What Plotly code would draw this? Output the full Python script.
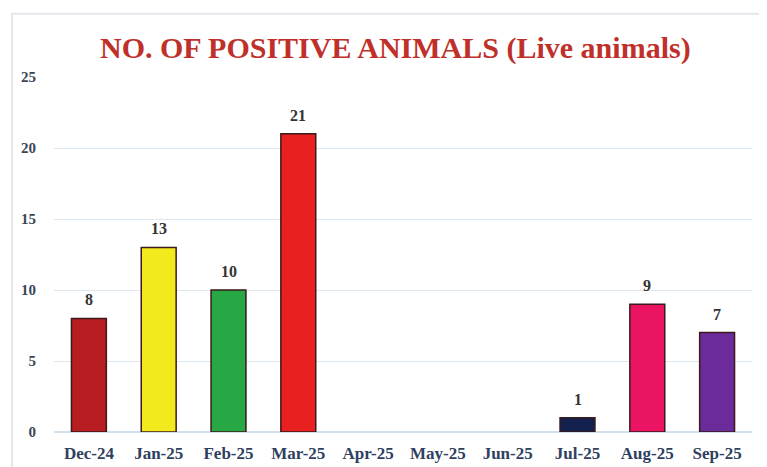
import plotly.graph_objects as go

months = ["Dec-24", "Jan-25", "Feb-25", "Mar-25", "Apr-25", "May-25",
          "Jun-25", "Jul-25", "Aug-25", "Sep-25"]
positives = [8, 13, 10, 21, 0, 0, 0, 1, 9, 7]
bar_colors = ["#b81d22", "#f2ea1c", "#27a845", "#e8201f", "#cccccc", "#cccccc",
              "#cccccc", "#13214f", "#ea1462", "#6b2b9b"]
y_ticks = [0, 5, 10, 15, 20, 25]

font_family = "Liberation Serif, Times New Roman, serif"

fig = go.Figure()
fig.add_trace(go.Bar(
    x=months, y=positives,
    marker=dict(color=bar_colors,
                line=dict(color="#3a1a1a",
                          width=[1.5 if v > 0 else 0 for v in positives])),
))

for m, v in zip(months, positives):
    if v > 0:
        fig.add_annotation(x=m, y=v, text=f"<b>{v}</b>", showarrow=False,
                           yanchor="bottom", yshift=8,
                           font=dict(family=font_family, size=16, color="#333333"))

fig.update_layout(
    width=767, height=467,
    margin=dict(l=46, r=23, t=69, b=38),
    paper_bgcolor="white", plot_bgcolor="white",
    bargap=0.5,
    showlegend=False,
    title=dict(text="<b>NO. OF POSITIVE ANIMALS (Live animals)</b>",
               x=0.505, xanchor="center", y=0.915, yanchor="middle",
               font=dict(family=font_family, size=30, color="#c0302a")),
    xaxis=dict(showgrid=False, showline=False, ticks="",
               tickfont=dict(family=font_family, size=17, color="#2f4060",
                             weight="bold"),
               ticklabelstandoff=9),
    yaxis=dict(range=[0, 25], tickvals=y_ticks, showgrid=True,
               gridcolor="#dce7f0", gridwidth=1, zeroline=True,
               zerolinecolor="#d3e0ec", ticks="",
               tickfont=dict(family=font_family, size=15, color="#3a4656",
                             weight="bold"),
               ticklabelstandoff=17),
    shapes=[dict(type="rect", xref="paper", yref="paper",
                 x0=-0.06, x1=1.05, y0=-0.2, y1=1.178,
                 line=dict(color="#e3e6ea", width=2), layer="below")],
)

fig.write_html("out.html")
